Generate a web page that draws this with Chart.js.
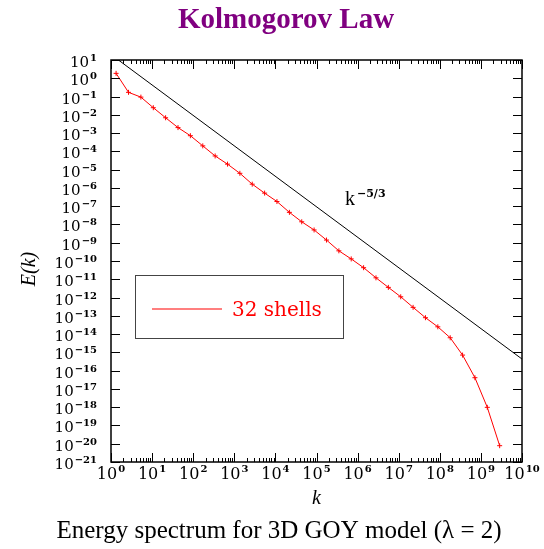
<!DOCTYPE html>
<html>
<head>
<meta charset="utf-8">
<script src="https://cdn.jsdelivr.net/npm/chart.js@4/dist/chart.umd.min.js"></script>
<style>
  body { margin: 0; background: #fff; }
</style>
</head>
<body>
<canvas id="myChart" width="544" height="549"></canvas>
<script>
// shell wavenumbers k_n (lambda = 2) and energy E(k_n)
const shellK = [1.33, 2.67, 5.34, 10.7, 21.3, 42.7, 85.4, 171, 342, 683,
  1366, 2732, 5464, 1.09e4, 2.19e4, 4.37e4, 8.74e4, 1.75e5, 3.5e5, 6.99e5,
  1.4e6, 2.8e6, 5.6e6, 1.12e7, 2.24e7, 4.48e7, 8.95e7, 1.79e8, 3.58e8, 7.16e8,
  1.43e9, 2.86e9];
const shellE = [1.86, 0.17, 0.093, 0.0245, 6.9e-3, 2.0e-3, 7.2e-4, 2.0e-4, 5.6e-5, 2.0e-5,
  6.3e-6, 1.6e-6, 5.2e-7, 1.8e-7, 4.6e-8, 1.4e-8, 5.0e-9, 1.4e-9, 3.6e-10, 1.3e-10,
  4.3e-11, 1.2e-11, 3.6e-12, 1.1e-12, 2.9e-13, 7.9e-14, 2.5e-14, 6.3e-15, 7.1e-16, 4.1e-17,
  9.8e-19, 7.8e-21];
// reference k^(-5/3) line end points
const slopeK = [1, 1e10];
const slopeE = [20, 4.31e-16];
// decade exponents for the tick labels
const xDecades = [0, 1, 2, 3, 4, 5, 6, 7, 8, 9, 10];
const yDecades = [1, 0, -1, -2, -3, -4, -5, -6, -7, -8, -9, -10, -11, -12, -13, -14, -15, -16, -17, -18, -19, -20, -21];

const serif = '"Liberation Serif", "Times New Roman", serif';
const tickFont = '"DejaVu Serif", serif';

function powLabel(ctx, exp, x, y, align, size, supSize, rise) {
  const base = '10';
  const sup = exp < 0 ? '\u2212' + (-exp) : String(exp);
  ctx.font = size + 'px ' + tickFont;
  const w1 = ctx.measureText(base).width;
  ctx.font = 'bold ' + supSize + 'px ' + tickFont;
  const w2 = ctx.measureText(sup).width;
  const left = align === 'right' ? x - w1 - w2 - 1 : x - (w1 + w2 + 1) / 2;
  ctx.textAlign = 'left';
  ctx.textBaseline = 'alphabetic';
  ctx.font = size + 'px ' + tickFont;
  ctx.fillText(base, left, y);
  ctx.font = 'bold ' + supSize + 'px ' + tickFont;
  ctx.fillText(sup, left + w1 + 1, y - rise);
}

const axisDecor = {
  id: 'axisDecor',
  afterDraw(chart) {
    const { ctx, chartArea: a, scales: { x, y } } = chart;
    ctx.save();
    ctx.strokeStyle = '#000';
    ctx.fillStyle = '#000';
    ctx.lineWidth = 1;

    // inward tick marks
    ctx.beginPath();
    xDecades.forEach(d => {
      const px = Math.round(x.getPixelForValue(Math.pow(10, d))) + 0.5;
      ctx.moveTo(px, a.bottom); ctx.lineTo(px, a.bottom - 9);
      ctx.moveTo(px, a.top); ctx.lineTo(px, a.top + 9);
      if (d < 10) {
        for (let m = 2; m < 10; m++) {
          const mx = Math.round(x.getPixelForValue(m * Math.pow(10, d))) + 0.5;
          ctx.moveTo(mx, a.bottom); ctx.lineTo(mx, a.bottom - 4);
          ctx.moveTo(mx, a.top); ctx.lineTo(mx, a.top + 4);
        }
      }
    });
    yDecades.forEach(d => {
      const py = Math.round(y.getPixelForValue(Math.pow(10, d))) + 0.5;
      ctx.moveTo(a.left, py); ctx.lineTo(a.left + 9, py);
      ctx.moveTo(a.right, py); ctx.lineTo(a.right - 9, py);
    });
    ctx.stroke();

    ctx.lineWidth = 1.5;
    ctx.strokeRect(a.left, a.top, a.right - a.left, a.bottom - a.top);

    // tick labels
    yDecades.forEach(d => {
      const py = y.getPixelForValue(Math.pow(10, d));
      powLabel(ctx, d, 97, py + 7, 'right', 15, 10, 6);
    });
    xDecades.forEach(d => {
      const px = x.getPixelForValue(Math.pow(10, d));
      powLabel(ctx, d, px, a.bottom + 17, 'center', 16, 10, 7);
    });

    // titles
    ctx.textAlign = 'center';
    ctx.textBaseline = 'alphabetic';
    ctx.fillStyle = '#800080';
    ctx.font = 'bold 29px ' + serif;
    ctx.fillText('Kolmogorov Law', 286, 28);

    ctx.fillStyle = '#000';
    ctx.font = 'italic 20px ' + serif;
    ctx.fillText('k', (a.left + a.right) / 2, 504);

    ctx.font = '25px ' + serif;
    ctx.fillText('Energy spectrum for 3D GOY model (\u03bb = 2)', 279, 538);

    ctx.save();
    ctx.translate(35, 269);
    ctx.rotate(-Math.PI / 2);
    ctx.font = 'italic 20px ' + serif;
    ctx.fillText('E(k)', 0, 0);
    ctx.restore();

    // k^-5/3 annotation
    ctx.textAlign = 'left';
    ctx.font = '20px ' + serif;
    ctx.fillText('k', 345, 205);
    ctx.font = 'bold 11px ' + tickFont;
    ctx.fillText('\u22125/3', 357, 197);

    // legend box
    ctx.strokeStyle = '#444';
    ctx.lineWidth = 1;
    ctx.strokeRect(135.5, 275.5, 208, 63);
    const ds = chart.data.datasets[0];
    ctx.strokeStyle = '#ff0000';
    ctx.lineWidth = 1.2;
    ctx.beginPath();
    ctx.moveTo(152, 309);
    ctx.lineTo(222, 309);
    ctx.stroke();
    ctx.fillStyle = '#ff0000';
    ctx.font = '20px ' + tickFont;
    ctx.fillText(ds.label, 232, 316);

    ctx.restore();
  }
};

const ctx = document.getElementById('myChart');
new Chart(ctx, {
  type: 'line',
  data: {
    datasets: [{
      label: '32 shells',
      data: shellK.map((k, i) => ({ x: k, y: shellE[i] })),
      borderColor: '#ff0000',
      borderWidth: 1,
      pointStyle: 'cross',
      pointRadius: 2.5,
      pointBorderWidth: 1,
      pointBorderColor: '#ff0000',
      tension: 0,
      fill: false
    }, {
      label: 'k^-5/3',
      data: slopeK.map((k, i) => ({ x: k, y: slopeE[i] })),
      borderColor: '#000',
      borderWidth: 1,
      pointRadius: 0,
      tension: 0,
      fill: false
    }]
  },
  options: {
    responsive: false,
    animation: false,
    layout: { padding: { left: 111, right: 22, top: 60, bottom: 87 } },
    scales: {
      x: { type: 'logarithmic', min: 1, max: 1e10, display: false },
      y: { type: 'logarithmic', min: 1e-21, max: 10, display: false }
    },
    plugins: {
      legend: { display: false },
      tooltip: { enabled: false }
    }
  },
  plugins: [axisDecor]
});
</script>
</body>
</html>
